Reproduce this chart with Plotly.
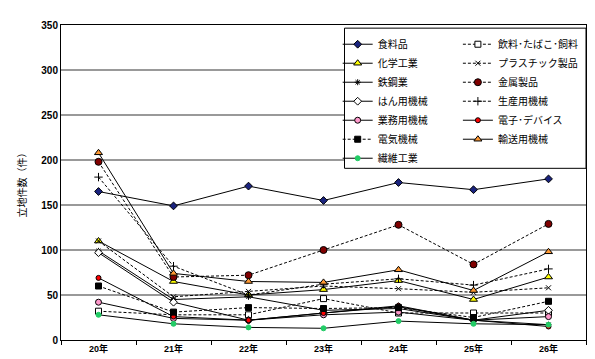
import plotly.graph_objects as go

years = ["20年", "21年", "22年", "23年", "24年", "25年", "26年"]
y_ticks = [0, 50, 100, 150, 200, 250, 300, 350]

shokuryo = [165, 149, 171, 155, 175, 167, 179]
inryo = [32, 28, 28, 46, 30, 30, 30]
kagaku = [110, 65, 50, 56, 66, 45, 70]
plastic = [110, 48, 54, 60, 57, 53, 58]
tekko = [99, 45, 48, 33, 35, 22, 17]
kinzoku = [198, 70, 72, 100, 128, 84, 129]
hanyo = [97, 42, 22, 30, 37, 22, 33]
seisan = [181, 82, 50, 62, 68, 61, 79]
gyomu = [42, 24, 22, 28, 31, 22, 26]
denshi = [69, 26, 22, 30, 38, 22, 15]
denki = [60, 31, 36, 35, 36, 25, 43]
yuso = [208, 74, 65, 64, 78, 55, 98]
seni = [28, 18, 14, 13, 21, 18, 17]

# name, values, dash, symbol, fill, outline, size, legend column
series = [
    ("食料品", shokuryo, "solid", "diamond", "#1a237e", "black", 6, "legend"),
    ("飲料･たばこ･飼料", inryo, "3px,2px", "square", "white", "black", 6, "legend2"),
    ("化学工業", kagaku, "solid", "triangle-up", "#ffff00", "black", 7, "legend"),
    ("プラスチック製品", plastic, "3px,2px", "x-thin", "black", "black", 5, "legend2"),
    ("鉄鋼業", tekko, "solid", "asterisk", "black", "black", 5, "legend"),
    ("金属製品", kinzoku, "3px,2px", "circle", "#800000", "black", 7, "legend2"),
    ("はん用機械", hanyo, "solid", "diamond", "white", "black", 6, "legend"),
    ("生産用機械", seisan, "3px,2px", "cross-thin", "black", "black", 6, "legend2"),
    ("業務用機械", gyomu, "solid", "circle", "#ff99cc", "black", 6, "legend"),
    ("電子･デバイス", denshi, "solid", "circle", "#ff0000", "black", 5, "legend2"),
    ("電気機械", denki, "3px,2px", "square", "black", "black", 6, "legend"),
    ("輸送用機械", yuso, "solid", "triangle-up", "#ff9933", "black", 7, "legend2"),
    ("繊維工業", seni, "solid", "circle", "#22cc66", "#22cc66", 5, "legend"),
]

fig = go.Figure()
for name, vals, dash, sym, fill, line_c, size, lg in series:
    fig.add_trace(go.Scatter(
        x=years, y=vals, name=name, mode="lines+markers", legend=lg,
        line=dict(color="black", width=1, dash=dash),
        marker=dict(symbol=sym, color=fill, size=size,
                    line=dict(color=line_c, width=1)),
    ))

font_family = "Liberation Sans, Arial, Noto Sans CJK JP"
legend_common = dict(
    orientation="v", yanchor="top", xanchor="left", y=0.985,
    bgcolor="rgba(0,0,0,0)", borderwidth=0,
    font=dict(size=10, family=font_family), tracegroupgap=0,
)
fig.update_layout(
    width=595, height=359,
    margin=dict(l=53, r=17, t=17, b=27),
    paper_bgcolor="white", plot_bgcolor="white",
    font=dict(family=font_family, size=10, color="black"),
    showlegend=True,
    legend=dict(x=0.527, **legend_common),
    legend2=dict(x=0.756, **legend_common),
    shapes=[dict(type="rect", xref="paper", yref="paper",
                 x0=0.54, x1=1.0, y0=0.545, y1=0.99,
                 fillcolor="white", line=dict(color="black", width=1),
                 layer="above")],
    xaxis=dict(
        type="category", range=[-0.5, 6.5],
        showline=True, linecolor="black", linewidth=1, mirror=True,
        ticks="outside", tickson="boundaries", ticklen=4, tickcolor="black",
        showgrid=False, tickfont=dict(size=9, weight="bold"),
    ),
    yaxis=dict(
        range=[0, 350], tickvals=y_ticks,
        showline=True, linecolor="black", linewidth=1, mirror=True,
        ticks="", showgrid=True, gridcolor="#999999", gridwidth=1.5,
        tickfont=dict(size=10, weight="bold"),
        title=dict(text="立地件数（件）", font=dict(size=10), standoff=12),
        zeroline=False,
    ),
)
fig.write_html("out.html")
